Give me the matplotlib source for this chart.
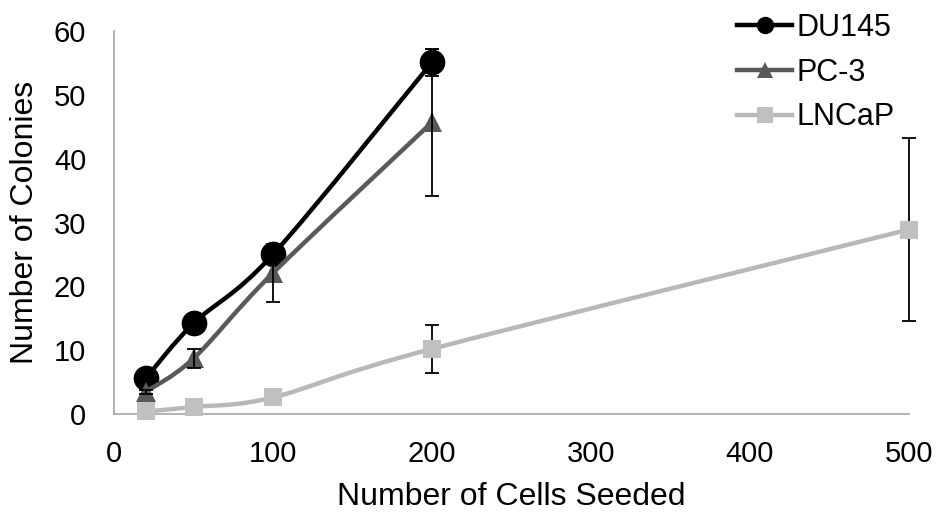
import numpy as np
import matplotlib.pyplot as plt
from matplotlib.path import Path
from matplotlib.patches import PathPatch
from matplotlib.lines import Line2D

plt.rcParams['font.family'] = ['Liberation Sans', 'DejaVu Sans']

# data
du145_x = [20, 50, 100, 200]
du145_y = [5.6, 14.2, 25.0, 55.1]
du145_err = [0.4, 0.5, 0.6, 2.1]

pc3_x = [20, 50, 100, 200]
pc3_y = [3.5, 8.7, 22.1, 45.7]
pc3_err = [0.3, 1.5, 4.5, 11.5]

lncap_x = [20, 50, 100, 200, 500]
lncap_y = [0.4, 1.1, 2.6, 10.2, 28.9]
lncap_err = [0.2, 0.3, 0.5, 3.8, 14.4]

x_ticks = [0, 100, 200, 300, 400, 500]
y_ticks = [0, 10, 20, 30, 40, 50, 60]


def smooth_path(xs, ys):
    # Catmull-Rom style bezier, like Excel's "smoothed line"
    p = np.column_stack([xs, ys]).astype(float)
    n = len(p)
    verts = [p[0]]
    codes = [Path.MOVETO]
    for i in range(n - 1):
        p0 = p[i - 1] if i > 0 else p[i]
        p3 = p[i + 2] if i + 2 < n else p[i + 1]
        c1 = p[i] + (p[i + 1] - p0) / 6
        c2 = p[i + 1] - (p3 - p[i]) / 6
        verts += [c1, c2, p[i + 1]]
        codes += [Path.CURVE4] * 3
    return Path(verts, codes)


fig = plt.figure(figsize=(9.39, 5.14), dpi=100)
ax = fig.add_axes([114 / 939, 1 - 414 / 514, 795 / 939, 383 / 514])

series = [
    ('DU145', du145_x, du145_y, du145_err, 'black', 'black', 'o', 18.5, 12.5, 6),
    ('PC-3', pc3_x, pc3_y, pc3_err, '#595959', '#595959', '^', 14.5, 12, 7),
    ('LNCaP', lncap_x, lncap_y, lncap_err, '#b8b8b8', '#c0c0c0', 's', 13.2, 11.5, 5),
]

handles = []
for k, (name, xs, ys, err, lc, mc, mk, ms, lms, z) in enumerate(series):
    ax.add_patch(PathPatch(smooth_path(xs, ys), fill=False, edgecolor=lc,
                           lw=3.2, zorder=z, clip_on=False, capstyle='round'))
    ax.plot(xs, ys, ls='none', marker=mk, ms=ms, color=mc, mec=mc, mew=0,
            zorder=z + 0.1, clip_on=False)
    ez = z + 0.2 if name != 'LNCaP' else z - 0.5
    ax.errorbar(xs, ys, yerr=err, fmt='none', ecolor='black', elinewidth=1.3,
                capsize=4.8, capthick=1.3, zorder=ez, clip_on=False)
    handles.append(Line2D([], [], color=lc, lw=3.2, marker=mk, ms=lms,
                          mfc=mc, mec=mc, mew=0, label=name))

ax.set_xlim(0, 500)
ax.set_ylim(0, 60)
ax.set_xticks(x_ticks)
ax.set_yticks(y_ticks)
ax.tick_params(length=0, labelsize=21)
ax.tick_params(axis='x', pad=19)
ax.tick_params(axis='y', pad=20)
for s in ['top', 'right']:
    ax.spines[s].set_visible(False)
for s in ['left', 'bottom']:
    ax.spines[s].set_color('#a6a6a6')
    ax.spines[s].set_linewidth(1.2)

ax.set_xlabel('Number of Cells Seeded', fontsize=23)
ax.set_ylabel('Number of Colonies', fontsize=23)
ax.xaxis.set_label_coords(0.5, -0.216)
ax.xaxis.label.set_va('center')
ax.yaxis.set_label_coords(-0.112, 0.5)
ax.yaxis.label.set_va('center')

fig.legend(handles=handles, loc='upper left', bbox_to_anchor=(737 / 939, 1 - 13 / 514),
           frameon=False, fontsize=22, borderpad=0, borderaxespad=0,
           handlelength=1.8, handletextpad=0.16, labelspacing=0.48)

fig.savefig('out.png', dpi=100)
